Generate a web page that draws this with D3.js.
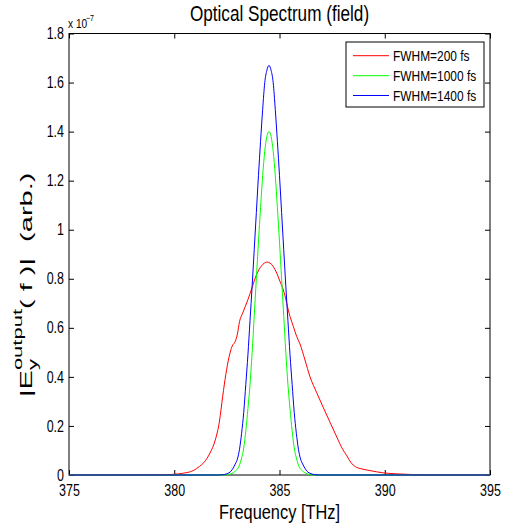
<!DOCTYPE html>
<html><head><meta charset="utf-8">
<script src="https://cdn.jsdelivr.net/npm/d3@7"></script>
<style>body{margin:0;background:#fff}text{font-family:"Liberation Sans",Arial,Helvetica,sans-serif;fill:#000}</style>
</head><body><svg id="c" width="510" height="529"></svg>
<script>
// ---- data (values in units of 1e-7) ----
const redFreq = [375, 379.5, 380.0, 380.4, 380.9, 381.2, 381.4, 381.7, 381.95, 382.15, 382.3, 382.45, 382.6, 382.75, 382.9, 383.0, 383.1, 383.25, 383.5, 383.7, 383.9, 384.15, 384.4, 384.55, 384.87, 385.02, 385.18, 385.5, 385.66, 385.82, 385.97, 386.21, 386.45, 386.77, 387.08, 387.4, 387.72, 388.0, 388.2, 388.4, 388.6, 388.9, 389.3, 389.9, 390.5, 391.0, 391.5, 392.0, 395];
const redVals = [0, 0.001, 0.003, 0.007, 0.018, 0.035, 0.05, 0.09, 0.143, 0.22, 0.32, 0.41, 0.48, 0.525, 0.545, 0.575, 0.625, 0.66, 0.715, 0.765, 0.815, 0.853, 0.868, 0.864, 0.823, 0.79, 0.755, 0.646, 0.605, 0.564, 0.535, 0.469, 0.40, 0.335, 0.275, 0.215, 0.155, 0.105, 0.078, 0.05, 0.034, 0.025, 0.018, 0.009, 0.005, 0.003, 0.001, 0, 0];
const greenFreq = [375, 382.3, 382.5, 382.7, 382.9, 383.1, 383.2, 383.3, 383.4, 383.5, 383.6, 383.7, 383.8, 383.9, 384.0, 384.1, 384.2, 384.3, 384.4, 384.5, 384.6, 384.7, 384.8, 384.9, 385.0, 385.1, 385.2, 385.3, 385.4, 385.5, 385.6, 385.7, 385.8, 385.9, 386.1, 386.3, 386.5, 386.7, 395];
const greenVals = [0, 0, 0.001, 0.005, 0.016, 0.04, 0.07, 0.11, 0.18, 0.27, 0.37, 0.50, 0.65, 0.80, 0.95, 1.09, 1.22, 1.32, 1.38, 1.40, 1.38, 1.32, 1.22, 1.09, 0.95, 0.80, 0.65, 0.50, 0.37, 0.27, 0.18, 0.11, 0.07, 0.04, 0.016, 0.005, 0.001, 0, 0];
const blueFreq = [375, 382.1, 382.3, 382.5, 382.7, 382.9, 383.0, 383.1, 383.2, 383.3, 383.4, 383.5, 383.6, 383.7, 383.8, 383.9, 384.0, 384.1, 384.2, 384.3, 384.4, 384.5, 384.6, 384.7, 384.8, 384.9, 385.0, 385.1, 385.2, 385.3, 385.4, 385.5, 385.6, 385.7, 385.8, 385.9, 386.0, 386.1, 386.3, 386.5, 386.7, 386.9, 395];
const blueVals = [0, 0, 0.001, 0.005, 0.016, 0.045, 0.065, 0.105, 0.17, 0.255, 0.37, 0.49, 0.63, 0.77, 0.92, 1.07, 1.22, 1.36, 1.49, 1.60, 1.65, 1.67, 1.65, 1.60, 1.49, 1.36, 1.22, 1.07, 0.92, 0.77, 0.63, 0.49, 0.37, 0.255, 0.17, 0.105, 0.065, 0.045, 0.016, 0.005, 0.001, 0, 0];
const seriesNames = ["FWHM=200 fs", "FWHM=1000 fs", "FWHM=1400 fs"];
const seriesColors = ["#ff0000", "#00ff00", "#0000ff"];
const xTicks = [375, 380, 385, 390, 395];
const xTickLabels = ["375", "380", "385", "390", "395"];
const yTicks = [0, 0.2, 0.4, 0.6, 0.8, 1, 1.2, 1.4, 1.6, 1.8];
const yTickLabels = ["0", "0.2", "0.4", "0.6", "0.8", "1", "1.2", "1.4", "1.6", "1.8"];
const titleText = "Optical Spectrum (field)";
const xLabelText = "Frequency [THz]";

// ---- layout ----
const K = 0.78; // horizontal glyph compression seen in the reference
const m = {l: 69, r: 490, t: 33.5, b: 475};
const svg = d3.select("#c");
const x = d3.scaleLinear().domain([375, 395]).range([m.l, m.r]);
const y = d3.scaleLinear().domain([0, 1.8]).range([m.b, m.t]);

function htext(g, px, py, str, size, anchor) {
  return g.append("text").attr("transform", `translate(${px},${py}) scale(${K},1)`)
    .attr("text-anchor", anchor || "start").style("font-size", size + "px").text(str);
}

// axes
const fmtX = (d) => xTickLabels[xTicks.indexOf(d)];
const fmtY = (d) => yTickLabels[yTicks.indexOf(d)];
const gx = svg.append("g").attr("transform", `translate(0,${m.b})`)
  .call(d3.axisBottom(x).tickValues(xTicks).tickSize(-5).tickSizeOuter(0).tickPadding(10).tickFormat(fmtX));
gx.selectAll("text").style("font-size", "16px").attr("transform", `scale(${K},1)`);
const gy = svg.append("g").attr("transform", `translate(${m.l},0)`)
  .call(d3.axisLeft(y).tickValues(yTicks).tickSize(-5).tickSizeOuter(0).tickPadding(5 / K).tickFormat(fmtY));
gy.selectAll("text").style("font-size", "16px").attr("transform", `scale(${K},1)`);
svg.append("g").attr("transform", `translate(0,${m.t})`)
  .call(d3.axisTop(x).tickValues(xTicks).tickSize(-5).tickSizeOuter(0).tickFormat(""));
svg.append("g").attr("transform", `translate(${m.r},0)`)
  .call(d3.axisRight(y).tickValues(yTicks).tickSize(-5).tickSizeOuter(0).tickFormat(""));
svg.selectAll(".domain").remove();
svg.selectAll(".tick line").attr("stroke", "#000");
svg.append("rect").attr("x", m.l).attr("y", m.t).attr("width", m.r - m.l).attr("height", m.b - m.t)
  .attr("fill", "none").attr("stroke", "#000").attr("stroke-width", 1);

// series
const series = [
  {f: redFreq, v: redVals},
  {f: greenFreq, v: greenVals},
  {f: blueFreq, v: blueVals}
];
const line = d3.line().x(d => x(d[0])).y(d => y(d[1])).curve(d3.curveMonotoneX);
series.forEach((s, i) => {
  svg.append("path").datum(d3.zip(s.f, s.v)).attr("d", line)
    .attr("fill", "none").attr("stroke", seriesColors[i]).attr("stroke-width", 1);
});

// exponent note
htext(svg, 68, 28, "x 10", 13);
htext(svg, 86, 20.5, "\u22127", 9);

// title and x label
htext(svg, (m.l + m.r) / 2, 20.5, titleText, 22, "middle");
htext(svg, (m.l + m.r) / 2, 518.5, xLabelText, 21, "middle");

// y label (rotated, glyph height compressed along screen x)
const YS = 0.57;
const yl = svg.append("g").attr("transform", `translate(32,397) rotate(-90) scale(1,${YS})`);
const mainSize = 29, scriptSize = 22;
const t1 = yl.append("text").attr("x", 0).attr("y", 0).style("font-size", mainSize + "px").text("|E");
const w1 = t1.node().getComputedTextLength();
const tSub = yl.append("text").attr("x", w1).attr("y", 9).style("font-size", scriptSize + "px").text("y");
const tSup = yl.append("text").attr("x", w1).attr("y", -17).style("font-size", scriptSize + "px").text("output");
const w2 = Math.max(tSub.node().getComputedTextLength(), tSup.node().getComputedTextLength());
yl.append("text").attr("x", w1 + w2).attr("y", 0).style("font-size", mainSize + "px")
  .attr("xml:space", "preserve").style("white-space", "pre").text("( f )|  (arb.)");

// legend
const lg = svg.append("g");
lg.append("rect").attr("x", 346).attr("y", 42).attr("width", 138).attr("height", 65)
  .attr("fill", "#fff").attr("stroke", "#000").attr("stroke-width", 1);
const rowY = [55.7, 75.7, 95.5];
seriesNames.forEach((n, i) => {
  lg.append("line").attr("x1", 353).attr("x2", 389).attr("y1", rowY[i]).attr("y2", rowY[i])
    .attr("stroke", seriesColors[i]).attr("stroke-width", 1);
  htext(lg, 393, rowY[i] + 5.5, n, 15.3);
});
</script></body></html>
